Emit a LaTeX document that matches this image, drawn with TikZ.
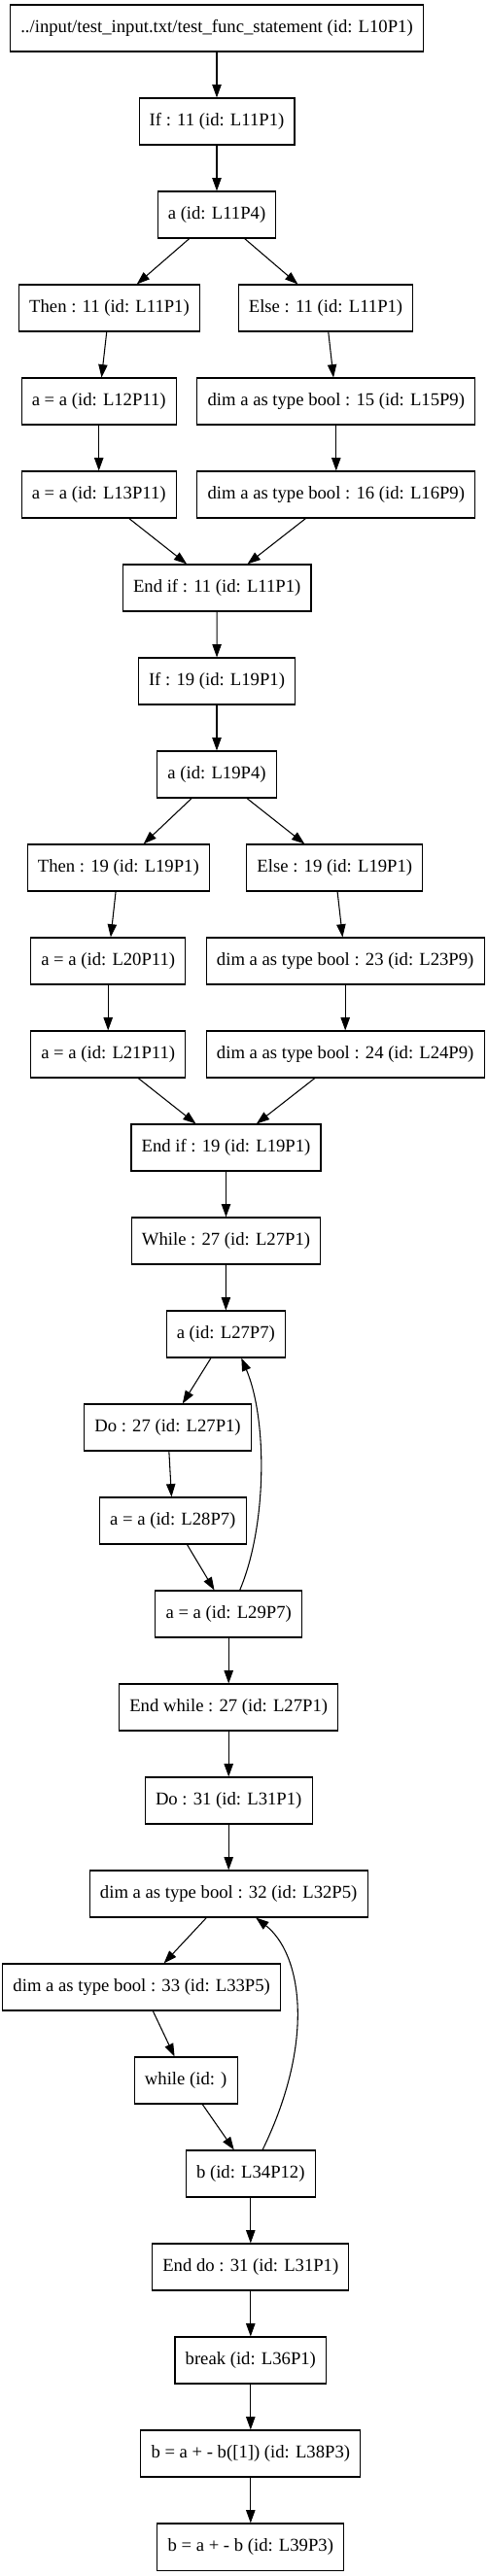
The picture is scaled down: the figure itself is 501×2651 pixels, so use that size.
\documentclass[tikz,border=0pt]{standalone}
\usepackage{fontspec}
\setmainfont{Liberation Serif}
\usepackage{tikz}
\usetikzlibrary{arrows.meta}

\begin{document}
\begin{tikzpicture}[x=0.75pt,y=-0.75pt,
  font=\fontsize{14}{16}\selectfont,
  >={Triangle[length=10pt,width=7pt]},
  stmt/.style={draw,line width=0.8pt,minimum height=36pt,inner xsep=8pt,inner ysep=2pt},
  flow/.style={->,line width=0.8pt},
  ]
  \useasboundingbox (0,0) rectangle (501,2651);
  % ---- function entry and first if ----
  \node[stmt] (root)    at (223,29)    {../input/test\_input.txt/test\_func\_statement (id: L10P1)};
  \node[stmt] (if11)    at (223,125)   {If : 11 (id: L11P1)};
  \node[stmt] (cond11)  at (223,221)   {a (id: L11P4)};
  \node[stmt] (then11)  at (112.5,317) {Then : 11 (id: L11P1)};
  \node[stmt] (else11)  at (335,317)   {Else : 11 (id: L11P1)};
  \node[stmt] (asg12)   at (101.7,413) {a = a (id: L12P11)};
  \node[stmt] (dim15)   at (345.8,413) {dim a as type bool : 15 (id: L15P9)};
  \node[stmt] (asg13)   at (101.7,509) {a = a (id: L13P11)};
  \node[stmt] (dim16)   at (345.8,509) {dim a as type bool : 16 (id: L16P9)};
  \node[stmt] (endif11) at (223.2,605) {End if : 11 (id: L11P1)};

  % ---- second if ----
  \node[stmt] (if19)    at (223,701)   {If : 19 (id: L19P1)};
  \node[stmt] (cond19)  at (223,797)   {a (id: L19P4)};
  \node[stmt] (then19)  at (121.8,893) {Then : 19 (id: L19P1)};
  \node[stmt] (else19)  at (344.3,893) {Else : 19 (id: L19P1)};
  \node[stmt] (asg20)   at (111.2,989) {a = a (id: L20P11)};
  \node[stmt] (dim23)   at (355.2,989) {dim a as type bool : 23 (id: L23P9)};
  \node[stmt] (asg21)   at (111.2,1085) {a = a (id: L21P11)};
  \node[stmt] (dim24)   at (355.2,1085) {dim a as type bool : 24 (id: L24P9)};
  \node[stmt] (endif19) at (232.5,1181) {End if : 19 (id: L19P1)};

  % ---- while loop ----
  \node[stmt] (while27)    at (232.5,1277) {While : 27 (id: L27P1)};
  \node[stmt] (cond27)     at (232.3,1373) {a (id: L27P7)};
  \node[stmt] (do27)       at (172.5,1469) {Do : 27 (id: L27P1)};
  \node[stmt] (asg28)      at (177.8,1565) {a = a (id: L28P7)};
  \node[stmt] (asg29)      at (235.2,1661) {a = a (id: L29P7)};
  \node[stmt] (endwhile27) at (235.2,1757) {End while : 27 (id: L27P1)};

  % ---- do loop and tail ----
  \node[stmt] (do31)    at (235.2,1853) {Do : 31 (id: L31P1)};
  \node[stmt] (dim32)   at (235.2,1949) {dim a as type bool : 32 (id: L32P5)};
  \node[stmt] (dim33)   at (145.7,2045) {dim a as type bool : 33 (id: L33P5)};
  \node[stmt] (whilex)  at (191.2,2141) {while (id: )};
  \node[stmt] (cond34)  at (257.8,2237) {b (id: L34P12)};
  \node[stmt] (enddo31) at (257.8,2333) {End do : 31 (id: L31P1)};
  \node[stmt] (brk36)   at (257.8,2429) {break (id: L36P1)};
  \node[stmt] (asg38)   at (257.8,2525) {b = a + - b([1]) (id: L38P3)};
  \node[stmt] (asg39)   at (257.8,2621) {b = a + - b (id: L39P3)};

  \draw[flow] (root) -- (if11);
  \draw[flow] (if11) -- (cond11);
  \draw[flow] (cond11) -- (then11);
  \draw[flow] (cond11) -- (else11);
  \draw[flow] (then11) -- (asg12);
  \draw[flow] (else11) -- (dim15);
  \draw[flow] (asg12) -- (asg13);
  \draw[flow] (dim15) -- (dim16);
  \draw[flow] (asg13) -- (endif11);
  \draw[flow] (dim16) -- (endif11);
  \draw[flow] (endif11) -- (if19);
  \draw[flow] (if19) -- (cond19);
  \draw[flow] (cond19) -- (then19);
  \draw[flow] (cond19) -- (else19);
  \draw[flow] (then19) -- (asg20);
  \draw[flow] (else19) -- (dim23);
  \draw[flow] (asg20) -- (asg21);
  \draw[flow] (dim23) -- (dim24);
  \draw[flow] (asg21) -- (endif19);
  \draw[flow] (dim24) -- (endif19);
  \draw[flow] (endif19) -- (while27);
  \draw[flow] (while27) -- (cond27);
  \draw[flow] (cond27) -- (do27);
  \draw[flow] (do27) -- (asg28);
  \draw[flow] (asg28) -- (asg29);
  % loop back to the while condition
  \draw[flow] ([xshift=8.6pt]asg29.north) .. controls +(28.3,-67) and +(26.7,62.7) .. ([xshift=12pt]cond27.south);
  \draw[flow] (asg29) -- (endwhile27);
  \draw[flow] (endwhile27) -- (do31);
  \draw[flow] (do31) -- (dim32);
  \draw[flow] (dim32) -- (dim33);
  \draw[flow] (dim33) -- (whilex);
  \draw[flow] (whilex) -- (cond34);
  % loop back to the do body
  \draw[flow] ([xshift=9.2pt]cond34.north) .. controls +(55,-113) and +(47,37) .. ([xshift=21pt]dim32.south);
  \draw[flow] (cond34) -- (enddo31);
  \draw[flow] (enddo31) -- (brk36);
  \draw[flow] (brk36) -- (asg38);
  \draw[flow] (asg38) -- (asg39);
\end{tikzpicture}
\end{document}
